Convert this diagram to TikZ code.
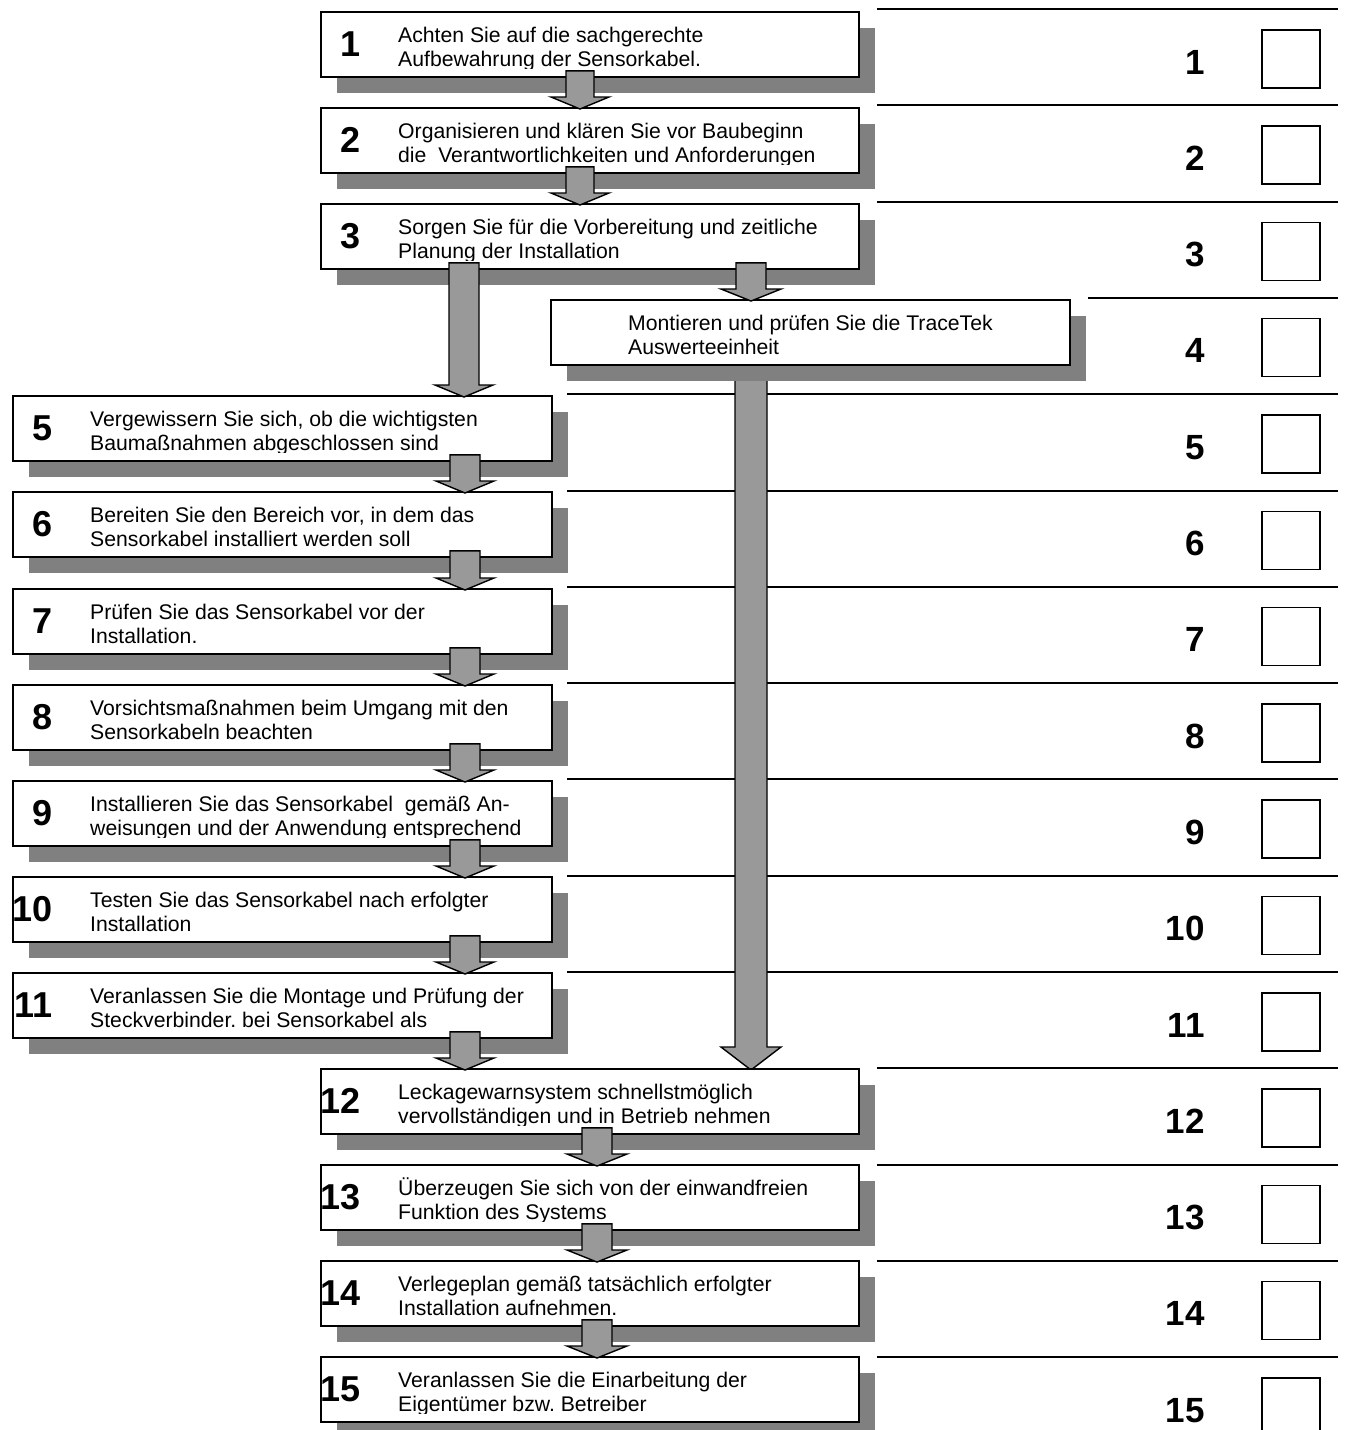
\documentclass[tikz,border=0pt]{standalone}
\usepackage{fontspec}
\setmainfont{Liberation Sans}
\frenchspacing
\usetikzlibrary{calc,shadows}
\pgfdeclarelayer{under}
\pgfsetlayers{under,main}
\definecolor{shadowgray}{HTML}{808080}
\definecolor{arrowgray}{HTML}{999999}
\tikzset{
  stepbox/.style={draw=black, line width=1.8pt, fill=white, rectangle, inner sep=0pt,
    minimum height=65pt, anchor=north west,
    drop shadow={shadow xshift=16pt, shadow yshift=-16pt, fill=shadowgray, opacity=1, draw=none}},
  steptext/.style={anchor=base west, inner sep=0pt, font=\fontsize{21.2}{24}\selectfont},
  stepnum/.style={anchor=base east, inner sep=0pt, font=\fontsize{36}{36}\selectfont\bfseries},
  rownum/.style={anchor=base east, inner sep=0pt, font=\fontsize{35}{35}\selectfont\bfseries},
  checkbox/.style={draw=black, line width=1.5pt, fill=white, inner sep=0pt, minimum size=58pt, anchor=north west},
  rowline/.style={line width=2pt},
  blockarrow/.style={fill=arrowgray, draw=black, line width=1.4pt, line join=miter},
}
% #1 name, #2 left, #3 top, #4 width, #5 number, #6 line 1, #7 line 2
\newcommand\flowstep[7]{%
  \node[stepbox, minimum width=#4pt] (#1) at (#2,#3) {};
  \begin{scope}
    \clip (#2,#3) rectangle ++(#4,57);
    \node[steptext] (#1a) at (#2+78,#3+31) {#6};
    \node[steptext] (#1b) at (#2+78,#3+55) {#7};
  \end{scope}
  \node[stepnum] (#1n) at (#2+41,#3+45) {#5};
}
% #1 start, #2 end, #3 shaft half width, #4 head half width, #5 head length
\newcommand\blockarrow[5]{%
  \draw[blockarrow] let \p1=(#1), \p2=(#2) in
    (\x1-#3pt,\y1) -- (\x1+#3pt,\y1) -- (\x1+#3pt,\y2+#5pt) -- (\x1+#4pt,\y2+#5pt)
    -- (\x1,\y2) -- (\x1-#4pt,\y2+#5pt) -- (\x1-#3pt,\y2+#5pt) -- cycle;
}
\begin{document}
\begin{tikzpicture}[x=1pt,y=-1pt]
\useasboundingbox (0,0) rectangle (1345,1430);

% checklist column
\begin{pgfonlayer}{under}
\foreach \i/\xs in {1/877,2/877,3/877,4/1088,5/567,6/567,7/567,8/567,9/567,10/567,11/567,12/877,13/877,14/877,15/877}{
  \pgfmathsetmacro\ly{9+96.3*(\i-1)}
  \draw[rowline] (\xs,\ly) -- (1338,\ly);
  \node[checkbox] (chk\i) at (1261,\ly+20) {};
  \node[rownum] (row\i) at (1205,\ly+65) {\i};
}
\end{pgfonlayer}

% main steps
\flowstep{b1}{320}{11}{538}{1}{Achten Sie auf die sachgerechte}{Aufbewahrung der Sensorkabel.}
\flowstep{b2}{320}{107}{538}{2}{Organisieren und klären Sie vor Baubeginn}{die\ \ Verantwortlichkeiten und Anforderungen}
\flowstep{b3}{320}{203}{538}{3}{Sorgen Sie für die Vorbereitung und zeitliche}{Planung der Installation}
\flowstep{b4}{550}{299}{519}{}{Montieren und prüfen Sie die TraceTek}{Auswerteeinheit}
\flowstep{b5}{12}{395}{539}{5}{Vergewissern Sie sich, ob die wichtigsten}{Baumaßnahmen abgeschlossen sind}
\flowstep{b6}{12}{491}{539}{6}{Bereiten Sie den Bereich vor, in dem das}{Sensorkabel installiert werden soll}
\flowstep{b7}{12}{588}{539}{7}{Prüfen Sie das Sensorkabel vor der}{Installation.}
\flowstep{b8}{12}{684}{539}{8}{Vorsichtsmaßnahmen beim Umgang mit den}{Sensorkabeln beachten}
\flowstep{b9}{12}{780}{539}{9}{Installieren Sie das Sensorkabel\ \ gemäß An-}{weisungen und der Anwendung entsprechend}
\flowstep{b10}{12}{876}{539}{10}{Testen Sie das Sensorkabel nach erfolgter}{Installation}
\flowstep{b11}{12}{972}{539}{11}{Veranlassen Sie die Montage und Prüfung der}{Steckverbinder. bei Sensorkabel als}
\flowstep{b12}{320}{1068}{538}{12}{Leckagewarnsystem schnellstmöglich}{vervollständigen und in Betrieb nehmen}
\flowstep{b13}{320}{1164}{538}{13}{Überzeugen Sie sich von der einwandfreien}{Funktion des Systems}
\flowstep{b14}{320}{1260}{538}{14}{Verlegeplan gemäß tatsächlich erfolgter}{Installation aufnehmen.}
\flowstep{b15}{320}{1356}{538}{15}{Veranlassen Sie die Einarbeitung der}{Eigentümer bzw. Betreiber}

% arrows
\blockarrow{$(b1.south west)+(260,-7)$}{$(b2.north west)+(260,2)$}{14}{29}{12}
\blockarrow{$(b2.south west)+(260,-7)$}{$(b3.north west)+(260,2)$}{14}{29}{12}
\blockarrow{$(b3.south west)+(144,-7)$}{$(b5.north west)+(452,2)$}{15}{29}{12}
\blockarrow{$(b3.south west)+(431,-7)$}{$(b4.north west)+(201,2)$}{15}{30}{12}
\foreach \a/\b in {5/6,6/7,7/8,8/9,9/10,10/11}{
  \blockarrow{$(b\a.south west)+(453,-7)$}{$(b\b.north west)+(453,2)$}{15}{29}{12}
}
\blockarrow{$(b11.south west)+(453,-7)$}{$(b12.north west)+(145,2)$}{15}{29}{12}
\foreach \a/\b in {12/13,13/14,14/15}{
  \blockarrow{$(b\a.south west)+(277,-7)$}{$(b\b.north west)+(277,2)$}{15}{30}{12}
}
\begin{pgfonlayer}{under}
\blockarrow{$(b4.south west)+(201,-7)$}{$(b12.north west)+(201,2)$}{16}{30}{23}
\end{pgfonlayer}
\end{tikzpicture}
\end{document}
